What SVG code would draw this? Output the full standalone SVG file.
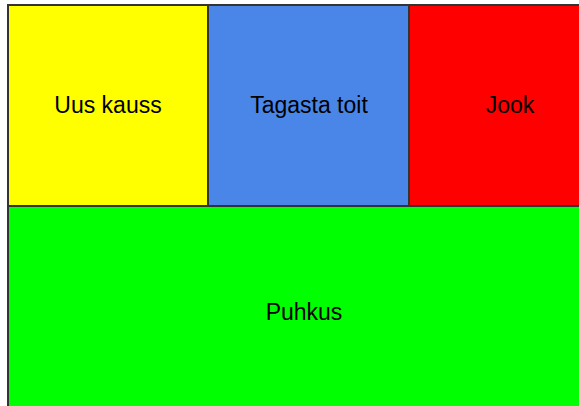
<svg xmlns="http://www.w3.org/2000/svg" width="579" height="406" viewBox="0 0 579 406">
<style>
.b{stroke:#333;stroke-width:2}
.t{font-family:"Liberation Sans",Arial,sans-serif;font-size:23px;fill:#000;text-anchor:middle}
</style>
<rect width="579" height="406" fill="#fff"/>
<g id="yellow"><rect class="b" x="8" y="5" width="200" height="201" fill="#ffff00"/><text class="t" x="108" y="113">Uus kauss</text></g>
<g id="blue"><rect class="b" x="208" y="5" width="201" height="201" fill="#4a86e8"/><text class="t" x="309" y="113">Tagasta toit</text></g>
<g id="red"><rect class="b" x="409" y="5" width="202" height="201" fill="#ff0000"/><text class="t" x="510" y="113">Jook</text></g>
<g id="green"><rect class="b" x="8" y="206" width="592" height="220" fill="#00ff00"/><text class="t" x="304" y="320">Puhkus</text></g>
<g id="connectors"/>
</svg>
